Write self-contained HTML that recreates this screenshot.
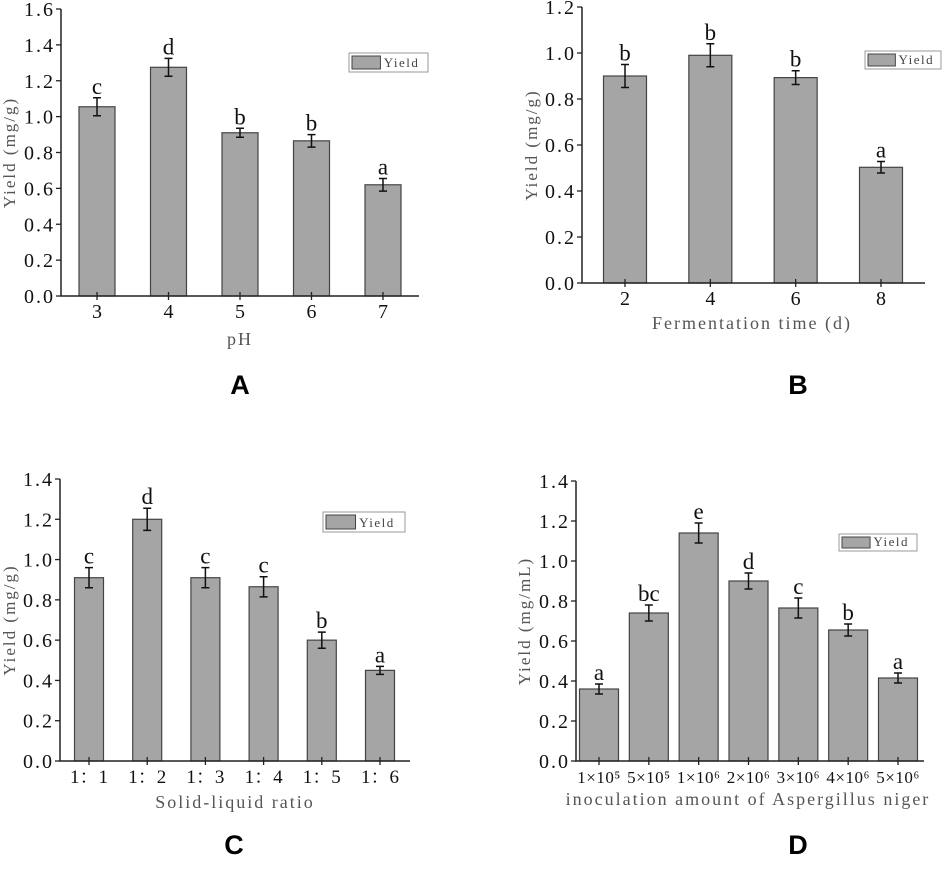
<!DOCTYPE html>
<html><head><meta charset="utf-8"><style>
body{margin:0;background:#fff;}
svg{display:block;}
text{font-family:"Liberation Serif","Noto Serif CJK SC",serif;}
</style></head><body>
<svg id="fig" width="948" height="870" viewBox="0 0 948 870"></svg>
<script>
// Panel A
const catsA = ["3","4","5","6","7"];
const valsA = [1.055,1.275,0.91,0.865,0.62];
const errsA = [0.05,0.05,0.025,0.035,0.035];
const letsA = ["c","d","b","b","a"];
const ticksA = ["0.0","0.2","0.4","0.6","0.8","1.0","1.2","1.4","1.6"];
// Panel B
const catsB = ["2","4","6","8"];
const valsB = [0.90,0.99,0.893,0.503];
const errsB = [0.05,0.05,0.03,0.025];
const letsB = ["b","b","b","a"];
const ticksB = ["0.0","0.2","0.4","0.6","0.8","1.0","1.2"];
// Panel C
const catsC = ["1：1","1：2","1：3","1：4","1：5","1：6"];
const valsC = [0.91,1.2,0.91,0.865,0.60,0.45];
const errsC = [0.05,0.055,0.05,0.05,0.04,0.02];
const letsC = ["c","d","c","c","b","a"];
const ticksC = ["0.0","0.2","0.4","0.6","0.8","1.0","1.2","1.4"];
// Panel D
const catsD = ["1×10⁵","5×10⁵","1×10⁶","2×10⁶","3×10⁶","4×10⁶","5×10⁶"];
const valsD = [0.36,0.74,1.14,0.90,0.765,0.655,0.415];
const errsD = [0.025,0.04,0.05,0.04,0.05,0.03,0.025];
const letsD = ["a","bc","e","d","c","b","a"];
const ticksD = ["0.0","0.2","0.4","0.6","0.8","1.0","1.2","1.4"];

const NS="http://www.w3.org/2000/svg";
const svg=document.getElementById('fig');
function mk(tag,attrs,parent,txt){const e=document.createElementNS(NS,tag);for(const k in attrs)e.setAttribute(k,attrs[k]);if(txt!==undefined)e.textContent=txt;(parent||svg).appendChild(e);return e;}

function panel(p){
  const g=mk('g',{});
  
  
  const ymax=parseFloat(p.ticks[p.ticks.length-1]);
  const ys=v=>p.y0-(v/ymax)*(p.y0-p.y1);
  const n=p.cats.length;
  const xs=i=>p.c0+i*(p.cN-p.c0)/(n-1);
  p.vals.forEach((v,i)=>{
    const b=mk('rect',{x:xs(i)-p.bw/2,y:ys(v),width:p.bw,height:p.y0-ys(v),fill:'#a5a5a5',stroke:'#444','stroke-width':1.2},g);
    
    
    const top=ys(v+p.errs[i]),bot=ys(v-p.errs[i]),cx=xs(i);
    const eb=mk('path',{d:`M${cx},${top}V${bot}M${cx-4},${top}H${cx+4}M${cx-4},${bot}H${cx+4}`,stroke:'#111','stroke-width':1.5,fill:'none'},g);
    
    
    const l=mk('text',{x:cx,y:top-4,'text-anchor':'middle','font-size':23,fill:'#111'},g,p.lets[i]);
    
    
    mk('line',{x1:cx,x2:cx,y1:p.y0-4,y2:p.y0+4,stroke:'#222','stroke-width':1.3},g);
    const t=mk('text',{x:cx,y:p.y0+22,'text-anchor':'middle','font-size':p.xfs,fill:'#111','letter-spacing':p.xls},g,p.cats[i]);
    
    
  });
  mk('path',{d:`M${p.ax},${p.y1}V${p.y0}H${p.xe}`,stroke:'#222','stroke-width':1.5,fill:'none'},g);
  p.ticks.forEach((t,i)=>{
    const y=ys(parseFloat(t));
    mk('line',{x1:p.ax-5,x2:p.ax,y1:y,y2:y,stroke:'#222','stroke-width':1.3},g);
    const tl=mk('text',{x:p.ax-6,y:y+7,'text-anchor':'end','font-size':20,fill:'#111','letter-spacing':'2'},g,t);
    
    
  });
  const yt=mk('text',{transform:`translate(${p.ytx},${(p.y0+p.y1)/2}) rotate(-90)`,'text-anchor':'middle','font-size':17,fill:'#555','letter-spacing':'2'},g,p.ytitle);
  
  
  const xt=mk('text',{x:p.xtx,y:p.xty,'text-anchor':'middle','font-size':18,fill:'#555','letter-spacing':'2'},g,p.xtitle);
  
  
  const lg=mk('g',{},g);
  
  
  mk('rect',{x:p.lx,y:p.ly,width:p.lw,height:p.lh,fill:'#fff',stroke:'#999','stroke-width':1},lg);
  mk('rect',{x:p.lx+3,y:p.ly+3,width:p.lw*0.36,height:p.lh-6,fill:'#a5a5a5',stroke:'#444'},lg);
  mk('text',{x:p.lx+p.lw*0.44,y:p.ly+p.lh-5,'font-size':13,fill:'#444','letter-spacing':'1.5'},lg,'Yield');
  const pl=mk('text',{x:p.px,y:p.py,'text-anchor':'middle','font-size':27,'font-weight':'bold',style:'font-family:"Liberation Sans",sans-serif',fill:'#000'},g,p.id);
  
  
}
panel({id:'A',cats:catsA,vals:valsA,errs:errsA,lets:letsA,ticks:ticksA,ax:61,y0:296,y1:9,xe:419,c0:97,cN:383,bw:36,xfs:20,xls:0,
  ytitle:'Yield (mg/g)',ytx:15,xtitle:'pH',xtx:240,xty:345,lx:349,ly:53,lw:79,lh:19,px:240,py:394});
panel({id:'B',cats:catsB,vals:valsB,errs:errsB,lets:letsB,ticks:ticksB,ax:582,y0:283,y1:7,xe:925,c0:625,cN:881,bw:43,xfs:20,xls:0,
  ytitle:'Yield (mg/g)',ytx:537,xtitle:'Fermentation time (d)',xtx:752,xty:329,lx:865,ly:51,lw:76,lh:18,px:798,py:394});
panel({id:'C',cats:catsC,vals:valsC,errs:errsC,lets:letsC,ticks:ticksC,ax:60,y0:761,y1:479,xe:410,c0:89,cN:380,bw:29,xfs:19,xls:0,
  ytitle:'Yield (mg/g)',ytx:15,xtitle:'Solid-liquid ratio',xtx:235,xty:808,lx:323,ly:512,lw:82,lh:20,px:234,py:854});
panel({id:'D',cats:catsD,vals:valsD,errs:errsD,lets:letsD,ticks:ticksD,ax:576,y0:761,y1:481,xe:924,c0:599,cN:898,bw:39,xfs:17,xls:0.5,
  ytitle:'Yield (mg/mL)',ytx:530,xtitle:'inoculation amount of Aspergillus niger',xtx:748,xty:805,lx:839,ly:534,lw:78,lh:17,px:798,py:854});
</script>
</body></html>
